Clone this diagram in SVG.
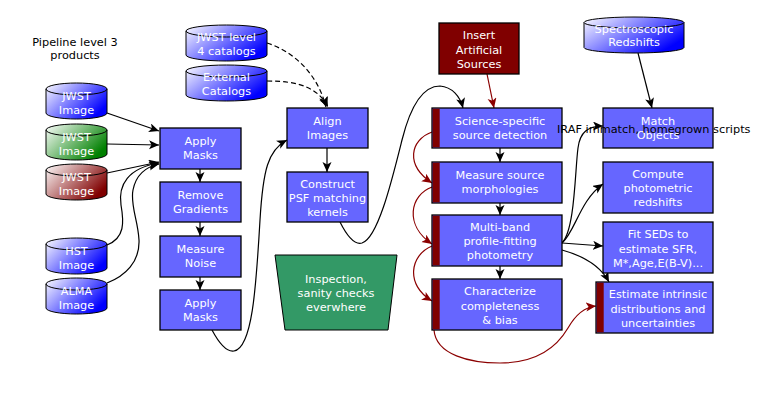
<svg xmlns="http://www.w3.org/2000/svg" width="775" height="412" viewBox="0 0 775 412">
<style>
.box{fill:#6666ff;stroke:#000;stroke-width:1.3}
.stripe{fill:#800000}
.cyl{stroke:#000;stroke-width:1}
.arc{fill:none;stroke:#000;stroke-width:1}
.t{font-family:"DejaVu Sans",Verdana,sans-serif;font-size:11.3px;fill:#fff;text-anchor:middle}
.k{font-family:"DejaVu Sans",Verdana,sans-serif;font-size:11.3px;fill:#000}
.c{fill:none;stroke:#000;stroke-width:1.2}
.cr{fill:none;stroke:#8b0000;stroke-width:1.2}
.cd{fill:none;stroke:#000;stroke-width:1.2;stroke-dasharray:5 3}
</style>
<defs>
<linearGradient id="gB" x1="0" y1="0" x2="1" y2="0.6"><stop offset="0" stop-color="#ffffff"/><stop offset="1" stop-color="#0000ff"/></linearGradient>
<linearGradient id="gG" x1="0" y1="0" x2="1" y2="0.6"><stop offset="0" stop-color="#ffffff"/><stop offset="1" stop-color="#008000"/></linearGradient>
<linearGradient id="gR" x1="0" y1="0" x2="1" y2="0.6"><stop offset="0" stop-color="#ffffff"/><stop offset="1" stop-color="#800000"/></linearGradient>
<marker id="aB" markerUnits="userSpaceOnUse" markerWidth="11" markerHeight="10" refX="10" refY="4.5" orient="auto"><path d="M0,0 L10,4.5 L0,9 L2.5,4.5 Z" fill="#000"/></marker>
<marker id="aR" markerUnits="userSpaceOnUse" markerWidth="11" markerHeight="10" refX="10" refY="4.5" orient="auto"><path d="M0,0 L10,4.5 L0,9 L2.5,4.5 Z" fill="#8b0000"/></marker>
</defs>
<rect width="775" height="412" fill="#fff"/>

<g id="connectors">
<path class="c" marker-end="url(#aB)" d="M107,113 L159,131"/>
<path class="c" marker-end="url(#aB)" d="M107,144 L159,145"/>
<path class="c" marker-end="url(#aB)" d="M107,173 L159,162"/>
<path class="c" marker-end="url(#aB)" d="M107,245 C125,238 124,222 121,205 C118,185 128,168 159,163"/>
<path class="c" marker-end="url(#aB)" d="M107,283 C125,276 140,262 139,240 C138,220 130,205 133,190 C136,175 145,167 159,164"/>
<path class="c" marker-end="url(#aB)" d="M200,169 L200,182"/>
<path class="c" marker-end="url(#aB)" d="M200,222 L200,236"/>
<path class="c" marker-end="url(#aB)" d="M200,277 L200,290"/>
<path class="c" marker-end="url(#aB)" d="M212,330 C220,345 228,352 234,351 C252,348 256,290 260,220 C263,170 268,150 287,140"/>
<path class="cd" marker-end="url(#aB)" d="M267,43 C295,52 318,75 326,107"/>
<path class="cd" marker-end="url(#aB)" d="M267,81 C300,81 318,88 328,107"/>
<path class="c" marker-end="url(#aB)" d="M327,148 L327,172"/>
<path class="c" marker-end="url(#aB)" d="M340,222 C348,238 355,245 362,243 C378,238 392,180 402,140 C412,100 425,86 440,86 C452,87 460,96 463,108"/>
<path class="c" marker-end="url(#aB)" d="M500,148 L500,162"/>
<path class="c" marker-end="url(#aB)" d="M500,203 L500,215"/>
<path class="c" marker-end="url(#aB)" d="M500,266 L500,279"/>
<path class="c" marker-end="url(#aB)" d="M638,53 L652,108"/>
<path class="c" marker-end="url(#aB)" d="M562,243 C575,230 575,170 578,148 C580,132 588,126 603,126"/>
<path class="c" marker-end="url(#aB)" d="M562,243 C575,232 580,200 603,184"/>
<path class="c" marker-end="url(#aB)" d="M562,243 L603,246"/>
<path class="c" marker-end="url(#aB)" d="M562,250 C580,255 600,265 609,282"/>
<path class="cr" marker-end="url(#aR)" d="M487,74 L494,108"/>
<path class="cr" marker-end="url(#aR)" d="M432,132 C410,140 405,165 432,183"/>
<path class="cr" marker-end="url(#aR)" d="M432,187 C410,195 404,225 432,244"/>
<path class="cr" marker-end="url(#aR)" d="M432,246 C410,255 405,285 432,301"/>
<path class="cr" marker-end="url(#aR)" d="M434,330 C436,355 470,363 500,363 C540,363 558,345 568,328 C576,314 585,307 596,306"/>
</g>

<g id="label-pipeline">
<text class="k" x="75" y="46" text-anchor="middle" font-size="10.5">Pipeline level 3</text>
<text class="k" x="75" y="59" text-anchor="middle" font-size="10.5">products</text>
</g>

<g id="jwst-image-blue">
<path class="cyl" fill="url(#gB)" d="M46,89 A30.5,6 0 0 1 107,89 L107,113 A30.5,6 0 0 1 46,113 Z"/>
<path class="arc" d="M46,89 A30.5,6 0 0 0 107,89"/>
<text class="t" x="76.5" y="100">JWST</text><text class="t" x="76.5" y="113.5">Image</text>
</g>
<g id="jwst-image-green">
<path class="cyl" fill="url(#gG)" d="M46,130 A30.5,6 0 0 1 107,130 L107,154 A30.5,6 0 0 1 46,154 Z"/>
<path class="arc" d="M46,130 A30.5,6 0 0 0 107,130"/>
<text class="t" x="76.5" y="141">JWST</text><text class="t" x="76.5" y="154.5">Image</text>
</g>
<g id="jwst-image-red">
<path class="cyl" fill="url(#gR)" d="M46,170 A30.5,6 0 0 1 107,170 L107,194 A30.5,6 0 0 1 46,194 Z"/>
<path class="arc" d="M46,170 A30.5,6 0 0 0 107,170"/>
<text class="t" x="76.5" y="181">JWST</text><text class="t" x="76.5" y="194.5">Image</text>
</g>
<g id="hst-image">
<path class="cyl" fill="url(#gB)" d="M46,244 A30.5,6 0 0 1 107,244 L107,268 A30.5,6 0 0 1 46,268 Z"/>
<path class="arc" d="M46,244 A30.5,6 0 0 0 107,244"/>
<text class="t" x="76.5" y="255">HST</text><text class="t" x="76.5" y="268.5">Image</text>
</g>
<g id="alma-image">
<path class="cyl" fill="url(#gB)" d="M46,284 A30.5,6 0 0 1 107,284 L107,308 A30.5,6 0 0 1 46,308 Z"/>
<path class="arc" d="M46,284 A30.5,6 0 0 0 107,284"/>
<text class="t" x="76.5" y="295">ALMA</text><text class="t" x="76.5" y="308.5">Image</text>
</g>
<g id="jwst-level4">
<path class="cyl" fill="url(#gB)" d="M186,31 A40.5,6 0 0 1 267,31 L267,55 A40.5,6 0 0 1 186,55 Z"/>
<path class="arc" d="M186,31 A40.5,6 0 0 0 267,31"/>
<text class="t" x="226.5" y="41">JWST level</text><text class="t" x="226.5" y="55">4 catalogs</text>
</g>
<g id="external-catalogs">
<path class="cyl" fill="url(#gB)" d="M186,71 A40.5,6 0 0 1 267,71 L267,95 A40.5,6 0 0 1 186,95 Z"/>
<path class="arc" d="M186,71 A40.5,6 0 0 0 267,71"/>
<text class="t" x="226.5" y="81">External</text><text class="t" x="226.5" y="95">Catalogs</text>
</g>
<g id="spectroscopic-redshifts">
<path class="cyl" fill="url(#gB)" d="M584,22.5 A50,5.5 0 0 1 684,22.5 L684,47.5 A50,5.5 0 0 1 584,47.5 Z"/>
<path class="arc" d="M584,22.5 A50,5.5 0 0 0 684,22.5"/>
<text class="t" x="634" y="33">Spectroscopic</text><text class="t" x="634" y="46">Redshifts</text>
</g>

<g id="apply-masks-1">
<rect class="box" x="160" y="128" width="81" height="41"/>
<text class="t" x="200.5" y="145">Apply</text><text class="t" x="200.5" y="159">Masks</text>
</g>
<g id="remove-gradients">
<rect class="box" x="160" y="182" width="81" height="40"/>
<text class="t" x="200.5" y="198.5">Remove</text><text class="t" x="200.5" y="212.5">Gradients</text>
</g>
<g id="measure-noise">
<rect class="box" x="160" y="236" width="81" height="41"/>
<text class="t" x="200.5" y="253">Measure</text><text class="t" x="200.5" y="267">Noise</text>
</g>
<g id="apply-masks-2">
<rect class="box" x="160" y="290" width="81" height="40"/>
<text class="t" x="200.5" y="306.5">Apply</text><text class="t" x="200.5" y="320.5">Masks</text>
</g>
<g id="align-images">
<rect class="box" x="287" y="108" width="81" height="40"/>
<text class="t" x="327.5" y="124.5">Align</text><text class="t" x="327.5" y="138.5">Images</text>
</g>
<g id="construct-psf">
<rect class="box" x="287" y="172" width="81" height="50"/>
<text class="t" x="327.5" y="187.5">Construct</text><text class="t" x="327.5" y="201.5">PSF matching</text><text class="t" x="327.5" y="215.5">kernels</text>
</g>
<g id="inspection">
<path d="M275,255 L397,255 L388,330 L285,330 Z" fill="#339966" stroke="#000" stroke-width="1"/>
<text class="t" x="336" y="283">Inspection,</text><text class="t" x="336" y="297">sanity checks</text><text class="t" x="336" y="311">everwhere</text>
</g>
<g id="insert-artificial">
<rect x="439" y="23" width="80" height="51" fill="#800000" stroke="#000" stroke-width="1.3"/>
<text class="t" x="479" y="39">Insert</text><text class="t" x="479" y="53.5">Artificial</text><text class="t" x="479" y="68">Sources</text>
</g>
<g id="source-detection">
<rect class="box" x="432" y="108" width="130" height="40"/>
<rect class="stripe" x="432.7" y="108.7" width="7" height="38.6"/>
<text class="t" x="500" y="124.5">Science-specific</text><text class="t" x="500" y="138.5">source detection</text>
</g>
<g id="morphologies">
<rect class="box" x="432" y="162" width="130" height="41"/>
<rect class="stripe" x="432.7" y="162.7" width="7" height="39.6"/>
<text class="t" x="500" y="179">Measure source</text><text class="t" x="500" y="193">morphologies</text>
</g>
<g id="photometry">
<rect class="box" x="432" y="215" width="130" height="51"/>
<rect class="stripe" x="432.7" y="215.7" width="7" height="49.6"/>
<text class="t" x="500" y="231">Multi-band</text><text class="t" x="500" y="245">profile-fitting</text><text class="t" x="500" y="259">photometry</text>
</g>
<g id="completeness">
<rect class="box" x="432" y="279" width="130" height="51"/>
<rect class="stripe" x="432.7" y="279.7" width="7" height="49.6"/>
<text class="t" x="500" y="295">Characterize</text><text class="t" x="500" y="309.5">completeness</text><text class="t" x="500" y="323.5">&amp; bias</text>
</g>
<g id="match-objects">
<rect class="box" x="603" y="108" width="110" height="40"/>
<text class="t" x="658" y="124.5">Match</text><text class="t" x="658" y="138.5">Objects</text>
</g>
<g id="photo-z">
<rect class="box" x="603" y="162" width="110" height="51"/>
<text class="t" x="658" y="178">Compute</text><text class="t" x="658" y="192">photometric</text><text class="t" x="658" y="206">redshifts</text>
</g>
<g id="fit-seds">
<rect class="box" x="603" y="222" width="110" height="51"/>
<text class="t" x="658" y="238">Fit SEDs to</text><text class="t" x="658" y="252.5">estimate SFR,</text><text class="t" x="658" y="266.5">M*,Age,E(B-V)...</text>
</g>
<g id="intrinsic-distributions">
<rect class="box" x="596" y="282" width="117" height="51"/>
<rect class="stripe" x="596.7" y="282.7" width="7" height="49.6"/>
<text class="t" x="658" y="298">Estimate intrinsic</text><text class="t" x="658" y="312.5">distributions and</text><text class="t" x="658" y="326.5">uncertainties</text>
</g>
<g id="label-iraf">
<text class="k" x="557" y="133">IRAF immatch, homegrown scripts</text>
</g>
</svg>
